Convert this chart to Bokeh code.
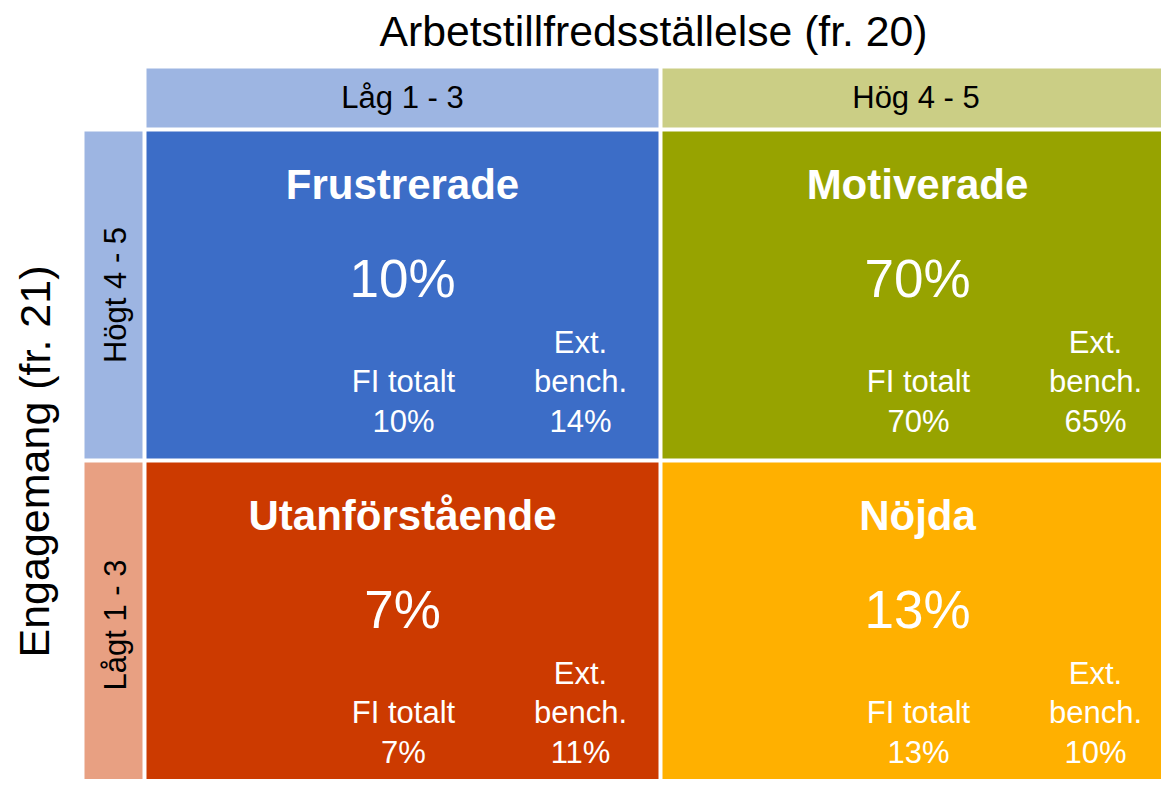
from bokeh.plotting import figure
from bokeh.models import Range1d, ColumnDataSource
from bokeh.embed import file_html
from bokeh.resources import INLINE
from bokeh.core.properties import value

# ---- data ----
col_labels = ["Låg 1 - 3", "Hög 4 - 5"]
row_labels = ["Högt 4 - 5", "Lågt 1 - 3"]
segments = ["Frustrerade", "Motiverade", "Utanförstående", "Nöjda"]
fi_totalt = [10, 70, 7, 13]
ext_bench = [14, 65, 11, 10]
x_title = "Arbetstillfredsställelse (fr. 20)"
y_title = "Engagemang (fr. 21)"

# ---- layout (page pixel coordinates) ----
col_left = [146, 662]
col_right = [658, 1174]
col_center = [402, 917]
row_top = [131, 462]
row_bottom = [458, 790]
head_top, head_bottom = 68, 127
side_left, side_right = 84, 142

cell_colors = ["#3C6DC7", "#97A300", "#CC3A00", "#FFB000"]
head_colors = ["#9DB5E2", "#CBCE85"]
side_colors = ["#9DB5E2", "#E8A082"]

FONT = value("Liberation Sans")

p = figure(width=1161, height=779, x_range=Range1d(0, 1161), y_range=Range1d(779, 0),
           output_backend="svg", toolbar_location=None, min_border=0,
           outline_line_color=None, background_fill_color="white")
p.axis.visible = False
p.grid.visible = False

# headers
p.quad(left=col_left, right=col_right, top=[head_top] * 2, bottom=[head_bottom] * 2,
       fill_color=head_colors, line_color=None)
p.text(x=[(l + r) / 2 for l, r in zip(col_left, [658, 1169])], y=[97, 97], text=col_labels,
       text_font=FONT, text_font_size="31px", text_color="black",
       text_align="center", text_baseline="middle")

# side labels
p.quad(left=[side_left] * 2, right=[side_right] * 2, top=row_top, bottom=row_bottom,
       fill_color=side_colors, line_color=None)
p.text(x=[115, 115], y=[(t + b) / 2 for t, b in zip(row_top, [458, 787])], text=row_labels,
       angle=1.5707963, text_font=FONT, text_font_size="31px", text_color="black",
       text_align="center", text_baseline="middle")

# cells
lefts, rights, tops, bottoms, cx, ry = [], [], [], [], [], []
for i, seg in enumerate(segments):
    r, c = divmod(i, 2)
    lefts.append(col_left[c]); rights.append(col_right[c])
    tops.append(row_top[r]); bottoms.append(row_bottom[r])
    cx.append(col_center[c]); ry.append(row_top[r])
p.quad(left=lefts, right=rights, top=tops, bottom=bottoms, fill_color=cell_colors, line_color=None)

src = ColumnDataSource(dict(
    x=cx, xfi=[x + 1 for x in cx], xext=[x + 178 for x in cx],
    y_name=[y + 53 for y in ry], y_big=[y + 147 for y in ry],
    y_ext=[y + 211 for y in ry], y_mid=[y + 250 for y in ry], y_val=[y + 290 for y in ry],
    name=segments,
    big=[f"{v}%" for v in fi_totalt],
    fi=[f"{v}%" for v in fi_totalt],
    ext=[f"{v}%" for v in ext_bench],
    fi_lbl=["FI totalt"] * 4, ext_lbl=["Ext."] * 4, bench_lbl=["bench."] * 4,
))

common = dict(source=src, text_font=FONT, text_color="white", text_align="center",
              text_baseline="middle")
p.text(x="x", y="y_name", text="name", text_font_size="42px", text_font_style="bold", **common)
p.text(x="x", y="y_big", text="big", text_font_size="53px", **common)
p.text(x="xfi", y="y_mid", text="fi_lbl", text_font_size="31px", **common)
p.text(x="xfi", y="y_val", text="fi", text_font_size="31px", **common)
p.text(x="xext", y="y_ext", text="ext_lbl", text_font_size="31px", **common)
p.text(x="xext", y="y_mid", text="bench_lbl", text_font_size="31px", **common)
p.text(x="xext", y="y_val", text="ext", text_font_size="31px", **common)

# axis titles
p.text(x=[653], y=[30], text=[x_title], text_font=FONT, text_font_size="42.7px",
       text_color="black", text_align="center", text_baseline="middle")
p.text(x=[34], y=[461], text=[y_title], angle=1.5707963, text_font=FONT, text_font_size="43px",
       text_color="black", text_align="center", text_baseline="middle")

open("out.html", "w").write(file_html(p, INLINE))
